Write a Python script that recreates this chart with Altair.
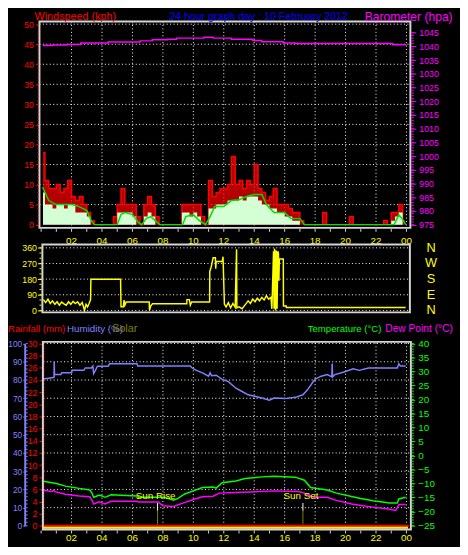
import altair as alt
import pandas as pd

FONT = "Liberation Sans"
FRAME = "#d4d4d4"

# ---------------- x axis ----------------
TICK_HOURS = [2, 4, 6, 8, 10, 12, 14, 16, 18, 20, 22, 24]
TICK_TEXT = ["02", "04", "06", "08", "10", "12", "14", "16", "18", "20", "22", "00"]
MINOR_HOURS = list(range(0, 25))

# ---------------- wind speed (kph), 15-minute samples ----------------
WIND_START = 0.125
WIND_STEP = 0.25
GUST = [18, 11, 9, 9, 10, 8, 9, 11, 7, 6, 7, 5, 3, 1, 0, 0,
        0, 0, 0, 2, 5, 9, 5, 5, 5, 2, 0, 5, 7, 5, 2, 0,
        0, 0, 0, 0, 0, 5, 5, 5, 5, 5, 2, 0, 11, 7, 8, 9,
        9, 10, 17, 10, 11, 9, 11, 10, 15, 9, 8, 6, 7, 9, 5, 5,
        5, 4, 3, 3, 1, 0, 0, 0, 0, 0, 3, 0, 0, 0, 0, 0,
        0, 2, 0, 0, 0, 0, 0, 0, 0, 0, 1, 0, 3, 3, 5, 1]
SPEED = [8, 5, 5, 4, 5, 5, 4, 5, 5, 3, 3, 3, 2, 0, 0, 0,
         0, 0, 0, 0, 3, 3, 3, 3, 2, 0, 0, 2, 3, 2, 0, 0,
         0, 0, 0, 0, 0, 3, 3, 2, 3, 2, 0, 0, 4, 4, 5, 5,
         5, 6, 6, 6, 7, 6, 7, 7, 7, 6, 5, 5, 4, 4, 3, 3,
         2, 2, 1, 1, 0, 0, 0, 0, 0, 0, 0, 0, 0, 0, 0, 0,
         0, 0, 0, 0, 0, 0, 0, 0, 0, 0, 0, 0, 1, 2, 3, 0]
AVG_H = [0.1, 0.5, 1.0, 1.5, 2.0, 2.5, 3.0, 3.3, 3.5, 5.0,
         5.25, 5.5, 6.0, 6.4, 6.6, 6.9, 7.2, 7.5, 7.8, 9.3,
         9.5, 10.0, 10.4, 10.8, 11.1, 11.4, 12.0, 12.5, 13.0, 13.5,
         14.0, 14.5, 14.8, 15.3, 16.0, 16.4, 17.0, 17.3, 23.2, 23.5,
         23.8, 23.95]
AVG_V = [9.4, 6, 5, 5, 5, 4.5, 3.5, 1, 0, 0,
         2.5, 3, 2.5, 0.5, 0, 1.5, 2, 1, 0, 0,
         2, 2.5, 1, 0, 2, 4.5, 4.5, 6, 6.2, 7,
         7.5, 7.5, 5, 3, 3, 1.5, 1.5, 0, 0, 2.5,
         1, 0]

# ---------------- barometer (hPa) ----------------
BARO_H = [0.1, 0.75, 1.7, 2.6, 4.4, 6.5, 7.3, 8.3, 8.9, 10.7,
          11.3, 12.5, 13.9, 14.5, 15.9, 16.7, 19.0, 21.0, 23.1, 23.95]
BARO_V = [1040.3, 1040.5, 1040.7, 1041.2, 1041.6, 1042.0, 1042.4, 1042.6, 1043.0, 1043.3,
          1043.0, 1042.6, 1042.1, 1041.7, 1041.2, 1041.0, 1041.0, 1041.0, 1040.6, 1040.3]

# ---------------- wind direction (degrees) ----------------
DIR_H = [0.15, 0.3, 0.45, 0.6, 0.75, 0.9, 1.05, 1.2, 1.35, 1.5,
         1.65, 1.8, 1.95, 2.1, 2.25, 2.4, 2.55, 2.7, 2.8, 2.85,
         2.95, 3.05, 3.15, 3.25, 3.27, 5.22, 5.23, 5.25, 5.4, 5.45,
         5.5, 5.59, 7.1, 7.12, 7.2, 7.31, 9.57, 9.58, 9.74, 9.8,
         9.89, 11.07, 11.08, 11.18, 11.3, 11.33, 11.45, 11.47, 11.5, 11.9,
         11.95, 12.04, 12.15, 12.3, 12.45, 12.6, 12.75, 12.84, 12.86, 13.0,
         13.2, 13.44, 13.6, 13.75, 13.9, 14.05, 14.2, 14.35, 14.5, 14.65,
         14.8, 14.95, 15.1, 15.16, 15.27, 15.3, 15.33, 15.36, 15.4, 15.43,
         15.46, 15.5, 15.55, 15.59, 15.62, 15.65, 15.91, 15.92, 16.1, 16.11,
         23.95]
DIR_V = [62, 45, 65, 40, 55, 35, 50, 30, 48, 38,
         30, 50, 35, 52, 40, 50, 30, 45, 15, 0,
         35, 20, 40, 62, 179, 179, 124, 21, 21, 60,
         30, 49, 49, 0, 25, 38, 38, 62, 62, 30,
         49, 49, 224, 252, 303, 303, 303, 240, 281, 281,
         309, 36, 20, 45, 15, 40, 18, 352, 15, 20,
         10, 36, 55, 40, 65, 50, 70, 55, 75, 60,
         85, 65, 75, 9, 340, 10, 356, 320, 0, 345,
         330, 10, 340, 330, 170, 296, 296, 26, 26, 17,
         17]
DIR_VALUES = [0, 90, 180, 270, 360]
DIR_LETTERS = ["N", "E", "S", "W", "N"]

# ---------------- humidity (%) ----------------
HUM_H = [0.1, 0.5, 0.85, 0.86, 0.88, 1.3, 1.35, 2.0, 2.05, 2.8,
         2.9, 3.3, 3.4, 3.45, 3.55, 3.7, 4.4, 4.5, 6.3, 6.35,
         9.8, 9.9, 10.2, 10.6, 11.0, 11.1, 11.2, 11.5, 11.9, 12.3,
         12.8, 13.2, 13.6, 14.1, 14.5, 15.0, 15.3, 16.0, 16.7, 17.2,
         17.5, 17.8, 18.0, 18.4, 18.8, 19.1, 19.12, 19.15, 19.3, 19.9,
         20.5, 20.9, 21.5, 23.4, 23.5, 23.6, 23.95]
HUM_V = [80.5, 81, 81.5, 90, 83, 83, 84, 84, 85.3, 85.3,
         86.6, 86.6, 87.6, 83.5, 85, 87.6, 87.6, 88.9, 88.9, 87.7,
         87.7, 86.7, 85.3, 83.9, 82.1, 84, 82.4, 82.6, 80.3, 79.1,
         75.5, 73.7, 71.9, 71.0, 70.1, 68.9, 70.1, 69.8, 70.5, 71.9,
         74.6, 78.2, 80.5, 82.1, 83.0, 81.7, 89, 81.7, 83.0, 84.4,
         86.2, 85.3, 86.6, 86.6, 88.9, 87.7, 87.7]

# ---------------- temperature / dew point (deg C) ----------------
TEMP_H = [0.05, 1.0, 1.6, 2.5, 3.2, 3.35, 3.45, 3.6, 3.8, 4.0,
          4.2, 4.6, 6.3, 6.4, 8.1, 8.7, 9.0, 9.4, 10.0, 10.6,
          11.3, 11.5, 11.9, 12.8, 13.4, 14.5, 15.3, 16.7, 17.3, 17.7,
          18.8, 19.4, 20.4, 21.0, 21.8, 22.9, 23.4, 23.5, 23.95]
TEMP_V = [-9.1, -10.0, -10.9, -11.7, -12.3, -13.5, -14.9, -14.6, -14.1, -14.4,
          -14.9, -14.0, -14.4, -14.9, -14.9, -15.9, -15.3, -13.8, -12.6, -11.4,
          -11.2, -11.6, -9.7, -9.1, -8.2, -7.6, -7.4, -7.7, -8.8, -11.4,
          -12.3, -13.4, -14.6, -15.3, -16.1, -16.9, -16.9, -15.5, -14.9]
DEW_H = [0.05, 0.7, 0.85, 0.9, 1.6, 2.5, 3.2, 3.35, 3.45, 3.8,
         4.2, 4.6, 6.3, 6.4, 7.7, 8.0, 8.7, 9.4, 10.0, 10.6,
         11.3, 11.7, 12.8, 13.7, 15.3, 16.9, 17.3, 17.9, 18.8, 19.4,
         20.4, 21.0, 21.8, 22.7, 23.3, 23.5, 23.95]
DEW_V = [-12.3, -12.8, -12.3, -12.9, -13.8, -14.4, -14.7, -16.0, -17.3, -16.5,
         -17.3, -16.3, -16.3, -16.6, -16.6, -17.9, -18.2, -16.8, -15.7, -14.7,
         -14.5, -13.4, -13.2, -13.0, -12.6, -12.8, -13.4, -14.9, -14.9, -16.0,
         -17.3, -17.8, -18.4, -19.0, -19.6, -17.5, -17.5]

# ---------------- rainfall / solar ----------------
RAIN_H = [0.15, 24.15]
RAIN_V = [0, 0]
SOLAR_H = [0.1, 24.1]
SOLAR_V = [0, 0]

SUN_H = [7.65, 17.2]
SUN_TEXT = ["Sun Rise", "Sun Set"]

# ---------------- scales (plot area 378 x 517) ----------------
X = alt.Scale(domain=[0, 24], range=[1.7, 373.5], nice=False, zero=False)


def ys(d0, d1, r0, r1):
    return alt.Scale(domain=[d0, d1], range=[r0, r1], nice=False, zero=False)


S_WIND = ys(0, 50, 206.7, 2.7)
S_BARO = ys(975, 1045, 206.7, 11.3)
S_DIR = ys(0, 360, 294, 230.3)
S_HUM = ys(0, 100, 513.3, 327.7)
S_RAIN = ys(0, 30, 513.3, 327.7)
S_TEMP = ys(-25, 40, 513, 327.7)
S_SOLAR = ys(0, 100, 515.2, 400)

ONE = pd.DataFrame({"k": [0]})
layers = []


def frame(x1, y1, x2, y2):
    return alt.Chart(ONE).mark_rect(fillOpacity=0, stroke=FRAME, strokeWidth=2).encode(
        x=alt.value(x1), x2=alt.value(x2), y=alt.value(y1), y2=alt.value(y2))


def label(text, x, y, color, size=11, align="left"):
    return alt.Chart(ONE).mark_text(text=text, color=color, font=FONT, fontSize=size,
                                    align=align, baseline="middle").encode(
        x=alt.value(x), y=alt.value(y))


def hgrid(vals, scale, x1, x2):
    return alt.Chart(pd.DataFrame({"v": vals})).mark_rule(
        color="white", strokeDash=[1, 2.5], strokeWidth=1).encode(
        y=alt.Y("v:Q", scale=scale, axis=None), x=alt.value(x1), x2=alt.value(x2))


def vgrid(vals, y1, y2):
    return alt.Chart(pd.DataFrame({"h": vals})).mark_rule(
        color="white", strokeDash=[1, 2.5], strokeWidth=1).encode(
        x=alt.X("h:Q", scale=X, axis=None), y=alt.value(y1), y2=alt.value(y2))


def minor(vals, scale, x1, x2, color):
    return alt.Chart(pd.DataFrame({"v": vals})).mark_rule(color=color, strokeWidth=1).encode(
        y=alt.Y("v:Q", scale=scale, axis=None), x=alt.value(x1), x2=alt.value(x2))


def yaxis(vals, scale, orient, offset, color, tick=4, pad=2, size=9, domain=False, dash=None):
    kw = dict(orient=orient, offset=offset, values=vals, labelColor=color, tickColor=color,
              tickSize=tick, labelPadding=pad, grid=False, title=None, labelFont=FONT,
              labelFontSize=size, labelOverlap=False, labelBound=False, domain=domain,
              format="d")
    if domain:
        kw["domainColor"] = color
        kw["domainWidth"] = 2
        if dash:
            kw["domainDash"] = dash
    return alt.Chart(pd.DataFrame({"v": vals})).mark_rule(opacity=0).encode(
        y=alt.Y("v:Q", scale=scale, axis=alt.Axis(**kw)), x=alt.value(0), x2=alt.value(1))


def xlabels(y):
    return alt.Chart(pd.DataFrame({"h": TICK_HOURS, "t": TICK_TEXT})).mark_text(
        color="yellow", font=FONT, fontSize=10, baseline="middle").encode(
        x=alt.X("h:Q", scale=X, axis=None), y=alt.value(y), text="t:N")


def xticks(y1, y2, color=FRAME):
    return alt.Chart(pd.DataFrame({"h": MINOR_HOURS})).mark_rule(color=color).encode(
        x=alt.X("h:Q", scale=X, axis=None), y=alt.value(y1), y2=alt.value(y2))


# ======== top panel: wind speed + barometer ========
layers.append(hgrid(list(range(5, 51, 5)), S_WIND, 0, 378))
layers.append(vgrid(TICK_HOURS, 0, 210))

wind_df = pd.DataFrame({"h": [WIND_START + WIND_STEP * i for i in range(len(GUST))],
                        "gust": GUST, "speed": SPEED})
layers.append(alt.Chart(wind_df).mark_area(interpolate="step", color="#ff0000",
                                           line={"color": "#ff0000", "strokeWidth": 1.5}).encode(
    x=alt.X("h:Q", scale=X, axis=None),
    y=alt.Y("gust:Q", scale=S_WIND, axis=None), y2=alt.datum(0)))
layers.append(alt.Chart(wind_df).mark_area(interpolate="step", color="#d4ffd4").encode(
    x=alt.X("h:Q", scale=X, axis=None),
    y=alt.Y("speed:Q", scale=S_WIND, axis=None), y2=alt.datum(0)))
layers.append(alt.Chart(pd.DataFrame({"h": AVG_H, "v": AVG_V})).mark_line(
    color="#00e000", strokeWidth=1.5).encode(
    x=alt.X("h:Q", scale=X, axis=None), y=alt.Y("v:Q", scale=S_WIND, axis=None)))
layers.append(alt.Chart(pd.DataFrame({"h": BARO_H, "v": BARO_V})).mark_line(
    color="#ff00ff", strokeWidth=1.5, interpolate="step-after").encode(
    x=alt.X("h:Q", scale=X, axis=None), y=alt.Y("v:Q", scale=S_BARO, axis=None)))

layers.append(frame(0, 0, 377.5, 210))
layers.append(minor(list(range(0, 51)), S_WIND, -2, -0.5, "#ff0000"))
layers.append(yaxis(list(range(0, 51, 5)), S_WIND, "left", 0, "#ff0000", tick=4))
layers.append(minor(list(range(975, 1046)), S_BARO, 378.5, 381, "#ff00ff"))
layers.append(yaxis(list(range(975, 1046, 5)), S_BARO, "right", 0, "#ff00ff", tick=5, pad=3))
layers.append(xticks(211, 214))
layers.append(xlabels(223))

# ======== middle panel: wind direction ========
layers.append(hgrid(DIR_VALUES, S_DIR, 3, 377))
layers.append(alt.Chart(pd.DataFrame({"h": DIR_H, "v": DIR_V})).mark_line(
    color="#ffff00", strokeWidth=1.5).encode(
    x=alt.X("h:Q", scale=X, axis=None), y=alt.Y("v:Q", scale=S_DIR, axis=None)))
layers.append(frame(3, 227, 377, 296))
layers.append(minor(list(range(0, 361, 30)), S_DIR, 0, 2, "#ffff00"))
layers.append(yaxis(DIR_VALUES, S_DIR, "left", -3, "#ffff00", tick=5, pad=1))
layers.append(alt.Chart(pd.DataFrame({"v": DIR_VALUES, "t": DIR_LETTERS})).mark_text(
    color="#ffff00", font=FONT, fontSize=13, align="center", baseline="middle").encode(
    y=alt.Y("v:Q", scale=S_DIR, axis=None), x=alt.value(398.5), text="t:N"))

# ======== bottom panel: rain, humidity, solar, temperature, dew point ========
layers.append(hgrid(list(range(10, 101, 10)), S_HUM, 4, 377))
layers.append(vgrid(TICK_HOURS, 327, 512))
layers.append(alt.Chart(pd.DataFrame({"h": HUM_H, "v": HUM_V})).mark_line(
    color="#8080ff", strokeWidth=1.5).encode(
    x=alt.X("h:Q", scale=X, axis=None), y=alt.Y("v:Q", scale=S_HUM, axis=None)))
layers.append(alt.Chart(pd.DataFrame({"h": TEMP_H, "v": TEMP_V})).mark_line(
    color="#00ff00", strokeWidth=1.5).encode(
    x=alt.X("h:Q", scale=X, axis=None), y=alt.Y("v:Q", scale=S_TEMP, axis=None)))
layers.append(alt.Chart(pd.DataFrame({"h": DEW_H, "v": DEW_V})).mark_line(
    color="#ff00ff", strokeWidth=1.5).encode(
    x=alt.X("h:Q", scale=X, axis=None), y=alt.Y("v:Q", scale=S_TEMP, axis=None)))
layers.append(alt.Chart(pd.DataFrame({"h": RAIN_H, "v": RAIN_V})).mark_line(
    color="#ff0000", strokeWidth=2.6).encode(
    x=alt.X("h:Q", scale=X, axis=None), y=alt.Y("v:Q", scale=S_RAIN, axis=None)))
layers.append(alt.Chart(pd.DataFrame({"h": SOLAR_H, "v": SOLAR_V})).mark_line(
    color="#ffff00", strokeWidth=2).encode(
    x=alt.X("h:Q", scale=X, axis=None), y=alt.Y("v:Q", scale=S_SOLAR, axis=None)))

sun_df = pd.DataFrame({"h": SUN_H, "t": SUN_TEXT})
layers.append(alt.Chart(sun_df).mark_rule(color="white", strokeWidth=1).encode(
    x=alt.X("h:Q", scale=X, axis=None), y=alt.value(490), y2=alt.value(497.7)))
layers.append(alt.Chart(sun_df).mark_rule(color="#ffff00", strokeWidth=1, strokeDash=[1, 1]).encode(
    x=alt.X("h:Q", scale=X, axis=None), y=alt.value(497.7), y2=alt.value(512)))
layers.append(alt.Chart(sun_df).mark_text(color="#ffff00", font=FONT, fontSize=10,
                                          baseline="middle", dx=-2).encode(
    x=alt.X("h:Q", scale=X, axis=None), y=alt.value(483), text="t:N"))

layers.append(frame(3.5, 326, 378, 517))
layers.append(yaxis(list(range(0, 31, 2)), S_RAIN, "left", -3.5, "#ff0000", tick=4, pad=2,
                    domain=True, dash=[2, 1]))
layers.append(minor(list(range(0, 101, 2)), S_HUM, -14, -12, "#8080ff"))
layers.append(yaxis(list(range(0, 101, 10)), S_HUM, "left", 15, "#8080ff", tick=2, pad=1,
                    size=8.5, domain=True))
layers.append(minor(list(range(-25, 41)), S_TEMP, 379, 381, "#00ff00"))
layers.append(yaxis(list(range(-25, 41, 5)), S_TEMP, "right", 0, "#00ff00", tick=4, pad=3, size=10))
layers.append(xticks(518, 521))
layers.append(xlabels(526))

# ======== titles ========
layers.append(label("Windspeed (kph)", -5, -5, "#ff0000"))
layers.append(label("24 hour graph day : 10 February 2012", 132, -5, "#0000ff", size=10.8))
layers.append(label("Barometer (hpa)", 331, -5, "#ff00ff", size=12.3))
layers.append(label("Rainfall (mm)", -32, 313, "#ff0000", size=9.8))
layers.append(label("Humidity (%)", 28, 313, "#8080ff", size=10))
layers.append(label("Solar", 74, 313, "#808000"))
layers.append(label("Temperature (°C)", 273, 313, "#00ff00", size=9.8))
layers.append(label("Dew Point (°C)", 352, 313, "#ff00ff", size=10.4))

chart = alt.layer(*layers).resolve_scale(y="independent").properties(
    width=378, height=517,
    autosize=alt.AutoSizeParams(type="none"),
    padding={"left": 32, "top": 9, "right": 50, "bottom": 13},
    background="black",
).configure_view(stroke=None)

chart.save("out.html", embed_options={"renderer": "svg", "actions": False})
